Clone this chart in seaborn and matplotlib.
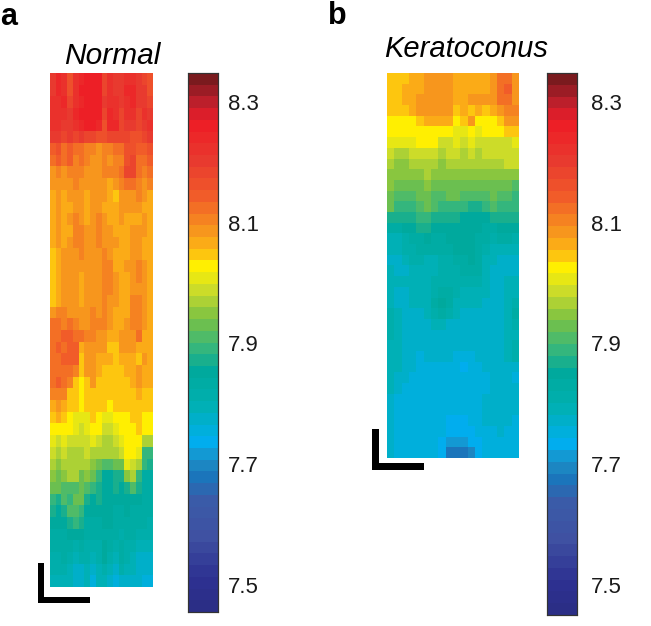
import pandas as pd
import seaborn as sns
import matplotlib.pyplot as plt
from matplotlib.colors import LinearSegmentedColormap
from matplotlib.patches import Rectangle

W, H = 651, 626

# colour stops (value, colour)
stops = [(8.348, "#7a1a1e"), (8.30, "#c9202e"), (8.275, "#ee1c25"), (8.21, "#e8392f"),
         (8.15, "#f15a29"), (8.09, "#f7941d"), (8.055, "#fdb913"), (8.027, "#fff200"),
         (7.984, "#c6d92e"), (7.94, "#7ac143"), (7.895, "#3cb878"), (7.85, "#00a99d"),
         (7.795, "#00b0b0"), (7.73, "#00aeef"), (7.70, "#1c8fc6"), (7.67, "#1b75bb"),
         (7.63, "#3a5ba8"), (7.57, "#3f51a2"), (7.50, "#2e3192"), (7.45, "#2b2e86")]

cbar_ticks = [7.5, 7.7, 7.9, 8.1, 8.3]

normal = [
    [8.20, 8.24, 8.22, 8.17, 8.22, 8.25, 8.27, 8.27, 8.26, 8.19, 8.22, 8.20, 8.20, 8.23, 8.23, 8.20, 8.19, 8.17],
    [8.21, 8.24, 8.23, 8.17, 8.22, 8.26, 8.27, 8.27, 8.26, 8.19, 8.23, 8.20, 8.20, 8.24, 8.24, 8.20, 8.20, 8.17],
    [8.22, 8.23, 8.24, 8.18, 8.23, 8.25, 8.27, 8.27, 8.27, 8.20, 8.23, 8.22, 8.20, 8.23, 8.24, 8.20, 8.21, 8.18],
    [8.23, 8.22, 8.23, 8.20, 8.24, 8.26, 8.27, 8.27, 8.26, 8.18, 8.24, 8.22, 8.19, 8.23, 8.22, 8.18, 8.22, 8.20],
    [8.22, 8.22, 8.20, 8.21, 8.22, 8.24, 8.27, 8.27, 8.24, 8.17, 8.24, 8.24, 8.19, 8.21, 8.20, 8.18, 8.20, 8.22],
    [8.21, 8.20, 8.18, 8.20, 8.18, 8.20, 8.18, 8.18, 8.16, 8.16, 8.18, 8.18, 8.18, 8.18, 8.17, 8.17, 8.18, 8.20],
    [8.14, 8.16, 8.13, 8.15, 8.12, 8.13, 8.11, 8.10, 8.09, 8.11, 8.10, 8.12, 8.13, 8.16, 8.16, 8.15, 8.14, 8.16],
    [8.12, 8.14, 8.12, 8.14, 8.11, 8.12, 8.10, 8.09, 8.09, 8.10, 8.09, 8.11, 8.11, 8.17, 8.18, 8.13, 8.12, 8.14],
    [8.09, 8.10, 8.09, 8.10, 8.10, 8.10, 8.09, 8.09, 8.09, 8.10, 8.11, 8.11, 8.12, 8.18, 8.19, 8.12, 8.10, 8.12],
    [8.08, 8.09, 8.08, 8.09, 8.10, 8.09, 8.08, 8.09, 8.08, 8.09, 8.07, 8.08, 8.10, 8.13, 8.13, 8.10, 8.09, 8.10],
    [8.07, 8.08, 8.07, 8.08, 8.09, 8.08, 8.07, 8.08, 8.09, 8.08, 8.06, 8.05, 8.09, 8.09, 8.09, 8.10, 8.08, 8.07],
    [8.07, 8.08, 8.06, 8.07, 8.08, 8.09, 8.07, 8.08, 8.08, 8.07, 8.07, 8.06, 8.08, 8.08, 8.08, 8.08, 8.07, 8.07],
    [8.07, 8.09, 8.06, 8.08, 8.10, 8.09, 8.07, 8.09, 8.10, 8.08, 8.07, 8.07, 8.08, 8.07, 8.07, 8.07, 8.08, 8.07],
    [8.06, 8.09, 8.07, 8.07, 8.10, 8.10, 8.08, 8.09, 8.10, 8.09, 8.08, 8.07, 8.07, 8.07, 8.08, 8.09, 8.08, 8.07],
    [8.06, 8.08, 8.07, 8.08, 8.10, 8.10, 8.09, 8.08, 8.10, 8.09, 8.08, 8.08, 8.07, 8.07, 8.09, 8.09, 8.07, 8.07],
    [8.05, 8.07, 8.08, 8.08, 8.09, 8.10, 8.09, 8.08, 8.09, 8.10, 8.09, 8.07, 8.07, 8.07, 8.08, 8.09, 8.07, 8.07],
    [8.05, 8.06, 8.08, 8.09, 8.09, 8.09, 8.09, 8.08, 8.08, 8.10, 8.10, 8.07, 8.07, 8.08, 8.08, 8.10, 8.08, 8.07],
    [8.04, 8.06, 8.08, 8.09, 8.08, 8.07, 8.09, 8.08, 8.08, 8.10, 8.10, 8.08, 8.07, 8.07, 8.09, 8.10, 8.08, 8.06],
    [8.04, 8.06, 8.08, 8.08, 8.08, 8.07, 8.08, 8.09, 8.08, 8.11, 8.10, 8.08, 8.07, 8.07, 8.09, 8.09, 8.08, 8.06],
    [8.05, 8.06, 8.09, 8.08, 8.09, 8.07, 8.09, 8.09, 8.09, 8.11, 8.09, 8.08, 8.07, 8.07, 8.10, 8.10, 8.09, 8.06],
    [8.09, 8.10, 8.10, 8.09, 8.09, 8.09, 8.09, 8.10, 8.09, 8.10, 8.09, 8.07, 8.07, 8.07, 8.10, 8.11, 8.09, 8.07],
    [8.12, 8.12, 8.11, 8.12, 8.10, 8.09, 8.09, 8.10, 8.10, 8.10, 8.08, 8.06, 8.06, 8.08, 8.11, 8.11, 8.08, 8.07],
    [8.13, 8.13, 8.14, 8.14, 8.12, 8.12, 8.10, 8.10, 8.09, 8.09, 8.07, 8.06, 8.09, 8.09, 8.09, 8.12, 8.06, 8.06],
    [8.13, 8.14, 8.13, 8.15, 8.14, 8.07, 8.08, 8.08, 8.09, 8.08, 8.05, 8.05, 8.09, 8.09, 8.08, 8.07, 8.06, 8.06],
    [8.13, 8.13, 8.14, 8.15, 8.14, 8.04, 8.09, 8.09, 8.07, 8.06, 8.06, 8.05, 8.07, 8.07, 8.07, 8.05, 8.09, 8.07],
    [8.12, 8.13, 8.13, 8.12, 8.11, 8.04, 8.08, 8.08, 8.06, 8.05, 8.05, 8.04, 8.05, 8.06, 8.07, 8.09, 8.06, 8.07],
    [8.13, 8.14, 8.13, 8.10, 8.04, 8.03, 8.04, 8.08, 8.05, 8.04, 8.04, 8.04, 8.04, 8.04, 8.06, 8.08, 8.06, 8.06],
    [8.10, 8.11, 8.10, 8.05, 8.04, 8.03, 8.04, 8.05, 8.04, 8.04, 8.04, 8.04, 8.04, 8.04, 8.05, 8.07, 8.05, 8.05],
    [8.06, 8.08, 8.06, 8.04, 8.04, 8.03, 8.04, 8.04, 8.04, 8.04, 8.03, 8.04, 8.04, 8.04, 8.05, 8.05, 8.05, 8.05],
    [8.05, 8.07, 8.04, 8.03, 8.01, 8.00, 8.01, 8.04, 8.03, 8.00, 8.01, 8.02, 8.03, 8.03, 8.04, 8.05, 8.03, 8.03],
    [8.03, 8.03, 8.03, 8.02, 8.00, 7.99, 8.00, 8.03, 8.02, 7.98, 7.98, 8.01, 8.02, 8.03, 8.03, 8.04, 8.02, 8.02],
    [8.01, 7.99, 8.01, 7.98, 7.98, 7.98, 7.99, 8.01, 7.99, 7.97, 7.97, 7.99, 8.00, 8.02, 8.02, 8.03, 7.96, 7.96],
    [7.98, 7.97, 7.98, 7.97, 7.97, 7.97, 7.98, 7.96, 7.97, 7.96, 7.96, 7.97, 7.98, 8.02, 8.02, 8.01, 7.89, 7.89],
    [7.96, 7.95, 7.97, 7.97, 7.96, 7.96, 7.96, 7.95, 7.93, 7.92, 7.92, 7.93, 7.94, 8.00, 7.98, 7.97, 7.89, 7.88],
    [7.95, 7.93, 7.95, 7.96, 7.96, 7.94, 7.95, 7.93, 7.89, 7.86, 7.86, 7.88, 7.87, 7.95, 7.96, 7.89, 7.84, 7.84],
    [7.93, 7.93, 7.91, 7.92, 7.92, 7.93, 7.91, 7.89, 7.88, 7.86, 7.86, 7.87, 7.86, 7.88, 7.92, 7.88, 7.84, 7.84],
    [7.90, 7.88, 7.92, 7.90, 7.93, 7.93, 7.88, 7.85, 7.87, 7.85, 7.85, 7.85, 7.85, 7.85, 7.85, 7.85, 7.84, 7.84],
    [7.87, 7.86, 7.88, 7.91, 7.92, 7.89, 7.85, 7.85, 7.85, 7.85, 7.85, 7.84, 7.84, 7.85, 7.84, 7.84, 7.83, 7.83],
    [7.85, 7.85, 7.85, 7.88, 7.90, 7.88, 7.84, 7.84, 7.84, 7.85, 7.85, 7.84, 7.83, 7.84, 7.83, 7.83, 7.83, 7.82],
    [7.84, 7.84, 7.84, 7.85, 7.85, 7.85, 7.83, 7.83, 7.83, 7.84, 7.84, 7.83, 7.82, 7.83, 7.83, 7.82, 7.82, 7.81],
    [7.83, 7.83, 7.84, 7.83, 7.82, 7.83, 7.82, 7.82, 7.82, 7.85, 7.83, 7.81, 7.83, 7.82, 7.81, 7.79, 7.79, 7.79],
    [7.82, 7.82, 7.83, 7.81, 7.80, 7.81, 7.81, 7.80, 7.81, 7.85, 7.82, 7.80, 7.83, 7.81, 7.80, 7.78, 7.77, 7.78],
    [7.81, 7.81, 7.81, 7.79, 7.78, 7.78, 7.79, 7.78, 7.80, 7.82, 7.80, 7.78, 7.82, 7.80, 7.79, 7.78, 7.77, 7.77],
    [7.80, 7.80, 7.80, 7.80, 7.77, 7.77, 7.79, 7.76, 7.79, 7.80, 7.78, 7.76, 7.78, 7.78, 7.78, 7.77, 7.76, 7.76],
]

keratoconus = [
    [8.04, 8.04, 8.05, 8.06, 8.07, 8.09, 8.09, 8.09, 8.09, 8.06, 8.06, 8.06, 8.06, 8.07, 8.08, 8.13, 8.13, 8.09],
    [8.04, 8.04, 8.06, 8.06, 8.07, 8.09, 8.09, 8.09, 8.09, 8.06, 8.06, 8.06, 8.07, 8.07, 8.09, 8.13, 8.14, 8.09],
    [8.04, 8.04, 8.06, 8.07, 8.08, 8.09, 8.09, 8.09, 8.09, 8.06, 8.07, 8.08, 8.08, 8.08, 8.09, 8.13, 8.13, 8.09],
    [8.04, 8.04, 8.05, 8.06, 8.08, 8.08, 8.08, 8.08, 8.08, 8.05, 8.06, 8.05, 8.06, 8.05, 8.07, 8.08, 8.10, 8.10],
    [8.03, 8.03, 8.03, 8.03, 8.05, 8.06, 8.06, 8.06, 8.06, 8.03, 8.05, 8.08, 8.03, 8.03, 8.03, 8.05, 8.09, 8.09],
    [8.02, 8.02, 8.02, 8.02, 8.03, 8.03, 8.03, 8.03, 8.02, 8.01, 8.00, 8.02, 8.01, 8.02, 8.03, 8.03, 8.05, 8.05],
    [8.00, 8.00, 8.00, 8.00, 8.02, 8.02, 8.02, 7.98, 7.98, 8.00, 7.98, 8.00, 7.98, 7.99, 7.99, 7.99, 7.99, 8.00],
    [7.98, 7.97, 7.97, 7.98, 7.98, 7.99, 7.98, 7.96, 7.98, 7.98, 7.96, 7.98, 7.97, 7.98, 7.98, 7.99, 7.98, 7.99],
    [7.96, 7.95, 7.95, 7.97, 7.97, 7.97, 7.96, 7.95, 7.97, 7.96, 7.96, 7.96, 7.96, 7.96, 7.97, 7.97, 7.98, 7.98],
    [7.95, 7.94, 7.94, 7.95, 7.95, 7.96, 7.94, 7.94, 7.94, 7.95, 7.95, 7.95, 7.95, 7.95, 7.95, 7.95, 7.94, 7.95],
    [7.94, 7.92, 7.92, 7.92, 7.93, 7.94, 7.93, 7.92, 7.92, 7.93, 7.93, 7.93, 7.92, 7.92, 7.92, 7.93, 7.93, 7.90],
    [7.93, 7.90, 7.90, 7.91, 7.93, 7.93, 7.91, 7.90, 7.92, 7.93, 7.91, 7.90, 7.91, 7.91, 7.92, 7.91, 7.90, 7.89],
    [7.92, 7.89, 7.88, 7.88, 7.90, 7.92, 7.90, 7.89, 7.89, 7.88, 7.88, 7.87, 7.87, 7.88, 7.91, 7.89, 7.89, 7.88],
    [7.87, 7.87, 7.87, 7.86, 7.88, 7.89, 7.87, 7.87, 7.86, 7.86, 7.85, 7.85, 7.85, 7.85, 7.86, 7.87, 7.87, 7.87],
    [7.84, 7.84, 7.85, 7.85, 7.86, 7.87, 7.85, 7.85, 7.85, 7.85, 7.85, 7.85, 7.85, 7.84, 7.84, 7.85, 7.85, 7.85],
    [7.80, 7.80, 7.82, 7.84, 7.84, 7.85, 7.84, 7.84, 7.85, 7.85, 7.85, 7.85, 7.84, 7.83, 7.82, 7.83, 7.83, 7.82],
    [7.79, 7.79, 7.81, 7.82, 7.83, 7.83, 7.83, 7.83, 7.84, 7.85, 7.85, 7.85, 7.84, 7.82, 7.80, 7.80, 7.80, 7.80],
    [7.78, 7.77, 7.79, 7.81, 7.81, 7.80, 7.80, 7.82, 7.82, 7.83, 7.84, 7.85, 7.83, 7.80, 7.79, 7.78, 7.78, 7.78],
    [7.79, 7.78, 7.78, 7.80, 7.80, 7.80, 7.80, 7.81, 7.81, 7.82, 7.83, 7.84, 7.83, 7.80, 7.78, 7.78, 7.78, 7.78],
    [7.80, 7.79, 7.80, 7.80, 7.79, 7.80, 7.81, 7.82, 7.82, 7.82, 7.82, 7.82, 7.81, 7.79, 7.78, 7.78, 7.79, 7.80],
    [7.80, 7.78, 7.78, 7.79, 7.79, 7.80, 7.82, 7.84, 7.83, 7.81, 7.80, 7.80, 7.80, 7.79, 7.78, 7.78, 7.79, 7.80],
    [7.80, 7.78, 7.78, 7.79, 7.79, 7.80, 7.83, 7.85, 7.83, 7.80, 7.79, 7.79, 7.79, 7.78, 7.78, 7.78, 7.80, 7.82],
    [7.81, 7.79, 7.78, 7.78, 7.78, 7.79, 7.81, 7.84, 7.81, 7.79, 7.78, 7.78, 7.78, 7.78, 7.78, 7.78, 7.80, 7.83],
    [7.81, 7.79, 7.78, 7.78, 7.78, 7.78, 7.79, 7.80, 7.78, 7.78, 7.78, 7.78, 7.78, 7.78, 7.78, 7.78, 7.80, 7.82],
    [7.81, 7.80, 7.78, 7.78, 7.78, 7.78, 7.78, 7.78, 7.78, 7.77, 7.77, 7.78, 7.78, 7.78, 7.78, 7.78, 7.79, 7.80],
    [7.80, 7.80, 7.78, 7.78, 7.77, 7.78, 7.78, 7.78, 7.77, 7.77, 7.77, 7.77, 7.78, 7.78, 7.78, 7.78, 7.79, 7.82],
    [7.80, 7.80, 7.78, 7.77, 7.76, 7.77, 7.77, 7.77, 7.77, 7.76, 7.75, 7.76, 7.77, 7.77, 7.78, 7.78, 7.79, 7.81],
    [7.80, 7.79, 7.78, 7.77, 7.76, 7.76, 7.76, 7.76, 7.76, 7.75, 7.74, 7.75, 7.76, 7.77, 7.77, 7.78, 7.77, 7.77],
    [7.80, 7.78, 7.77, 7.76, 7.76, 7.76, 7.76, 7.76, 7.76, 7.75, 7.75, 7.75, 7.76, 7.76, 7.77, 7.78, 7.77, 7.76],
    [7.79, 7.77, 7.76, 7.75, 7.75, 7.76, 7.76, 7.76, 7.75, 7.75, 7.75, 7.75, 7.76, 7.76, 7.77, 7.78, 7.78, 7.77],
    [7.78, 7.76, 7.75, 7.75, 7.75, 7.76, 7.76, 7.76, 7.75, 7.75, 7.75, 7.75, 7.76, 7.77, 7.78, 7.78, 7.78, 7.77],
    [7.77, 7.76, 7.75, 7.75, 7.76, 7.76, 7.76, 7.75, 7.75, 7.75, 7.75, 7.75, 7.76, 7.77, 7.78, 7.78, 7.78, 7.77],
    [7.77, 7.75, 7.75, 7.75, 7.76, 7.76, 7.76, 7.75, 7.74, 7.74, 7.74, 7.75, 7.76, 7.77, 7.77, 7.78, 7.77, 7.76],
    [7.77, 7.75, 7.75, 7.75, 7.76, 7.76, 7.75, 7.75, 7.74, 7.74, 7.74, 7.74, 7.75, 7.76, 7.76, 7.77, 7.76, 7.76],
    [7.77, 7.75, 7.75, 7.75, 7.75, 7.75, 7.75, 7.74, 7.72, 7.72, 7.72, 7.73, 7.74, 7.75, 7.76, 7.76, 7.76, 7.76],
    [7.77, 7.76, 7.75, 7.75, 7.75, 7.75, 7.75, 7.73, 7.68, 7.67, 7.67, 7.69, 7.74, 7.75, 7.76, 7.76, 7.76, 7.76],
]

plt.rcParams['font.family'] = ['Liberation Sans', 'DejaVu Sans']

cmap = LinearSegmentedColormap.from_list(
    "ph",
    [((v - 7.45) / (8.348 - 7.45), c) for v, c in reversed(stops)],
    N=46,
)


def px_axes(fig, left, top, right, bottom):
    # axes box from pixel edges, y counted from the top of the image
    return fig.add_axes([left / W, 1 - bottom / H, (right - left) / W, (bottom - top) / H])


def panel(fig, values, box, cbar_box, vmin, pad):
    ax = px_axes(fig, *box)
    cax = px_axes(fig, *cbar_box)
    sns.heatmap(pd.DataFrame(values), ax=ax, cbar_ax=cax, cmap=cmap, vmin=vmin, vmax=8.348,
                xticklabels=False, yticklabels=False,
                cbar_kws={"ticks": cbar_ticks, "format": "%.1f"})
    cax.tick_params(length=0, labelsize=16, pad=pad, colors="#1a1a1a")
    for s in cax.spines.values():
        s.set_visible(True)
        s.set_edgecolor("#333333")
        s.set_linewidth(0.8)
    return ax


def scale_bar(fig, left, top, right, bottom, thick):
    # L shaped black scale bar, in pixels
    for x0, y0, w, h in [(left, top, thick, bottom - top),
                         (left, bottom - thick, right - left, thick)]:
        fig.add_artist(Rectangle((x0 / W, 1 - (y0 + h) / H), w / W, h / H,
                                 transform=fig.transFigure, color="black", lw=0))


fig = plt.figure(figsize=(W / 100, H / 100), dpi=100)

panel(fig, normal, (50, 73, 153, 587), (188, 73, 218, 612), 7.455, 7)
panel(fig, keratoconus, (387, 73, 519, 458), (547, 73, 577, 615), 7.45, 10)

scale_bar(fig, 38, 563, 90, 603, 6)
scale_bar(fig, 372, 429, 424, 470, 7)

fig.text(0 / W, 1 - 25 / H, "a", fontsize=22, fontweight="bold")
fig.text(328 / W, 1 - 24 / H, "b", fontsize=22, fontweight="bold")
fig.text(64 / W, 1 - 64 / H, "Normal", fontsize=21.5, style="italic")
fig.text(384 / W, 1 - 57 / H, "Keratoconus", fontsize=21, style="italic")

fig.savefig("out.png", dpi=100)
